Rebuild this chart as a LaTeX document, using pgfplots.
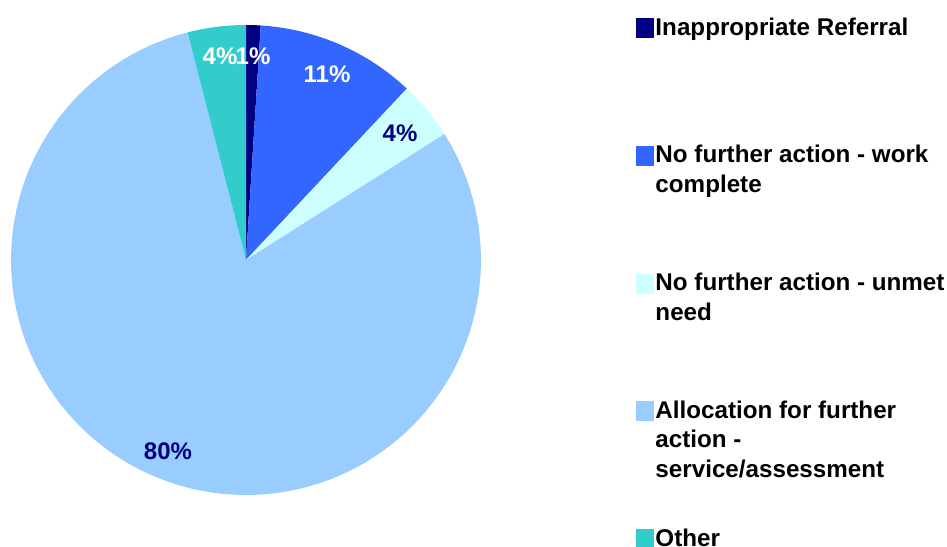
\documentclass[border=0pt]{standalone}
\usepackage{fontspec}
\setmainfont{Liberation Sans}
\usepackage{pgfplots}
\pgfplotsset{compat=1.18}
\definecolor{cInap}{HTML}{000080}
\definecolor{cWork}{HTML}{3366FF}
\definecolor{cUnmet}{HTML}{CCFFFF}
\definecolor{cAlloc}{HTML}{99CCFF}
\definecolor{cOther}{HTML}{33CCCC}
% #1 = cumulative share before this slice (%), #2 = share (%), #3 = colour
\newcommand\slice[3]{%
  \pgfmathsetmacro\angA{90-3.6*#1}%
  \pgfmathsetmacro\angB{90-3.6*(#1+#2)}%
  \edef\doslice{\noexpand\addplot[fill=#3, draw=none, domain=\angB:\angA, samples=120, variable=\noexpand\t] ({cos(\noexpand\t)},{sin(\noexpand\t)}) -- (axis cs:0,0) -- cycle;}%
  \doslice
}
\newcommand\legtxt[1]{\parbox[t]{289bp}{\raggedright\fontsize{24.2bp}{29.5bp}\selectfont\bfseries #1}}
\newcommand\pct{\fontsize{24bp}{28bp}\selectfont\bfseries}
\begin{document}
\begin{tikzpicture}
\useasboundingbox (0,0) rectangle (947bp,547bp);
\begin{axis}[
  at={(0,0)}, anchor=south west,
  x=235bp, y=235bp,
  xmin=-1.04681, xmax=2.98298,
  ymin=-1.22128, ymax=1.10638,
  hide axis, clip=false,
  legend image code/.code={\fill[#1] (0bp,-3bp) rectangle (18bp,17bp);},
  legend style={at={(0.67159,0.9678)}, anchor=north west, draw=none, fill=none,
    inner sep=0pt, outer sep=0pt, column sep=1.5bp, row sep=107.2bp,
    nodes={inner sep=0pt, outer sep=0pt}, cells={anchor=base west}},
]
\slice{0}{1}{cInap}
\slice{1}{11}{cWork}
\slice{12}{4}{cUnmet}
\slice{16}{80}{cAlloc}
\slice{96}{4}{cOther}
\legend{\legtxt{Inappropriate Referral},
        \legtxt{No further action - work\\complete},
        \legtxt{No further action - unmet\\need},
        \legtxt{Allocation for further\\action -\\service/assessment},
        \legtxt{Other}}
\node[font=\pct, text=white] at (axis cs:-0.1106,0.8681) {4\%};
\node[font=\pct, text=white] at (axis cs:0.0298,0.8681) {1\%};
\node[font=\pct, text=white] at (axis cs:0.3447,0.7915) {11\%};
\node[font=\pct, text=cInap] at (axis cs:0.6553,0.5404) {4\%};
\node[font=\pct, text=cInap] at (axis cs:-0.3319,-0.8128) {80\%};
\end{axis}
\end{tikzpicture}
\end{document}
